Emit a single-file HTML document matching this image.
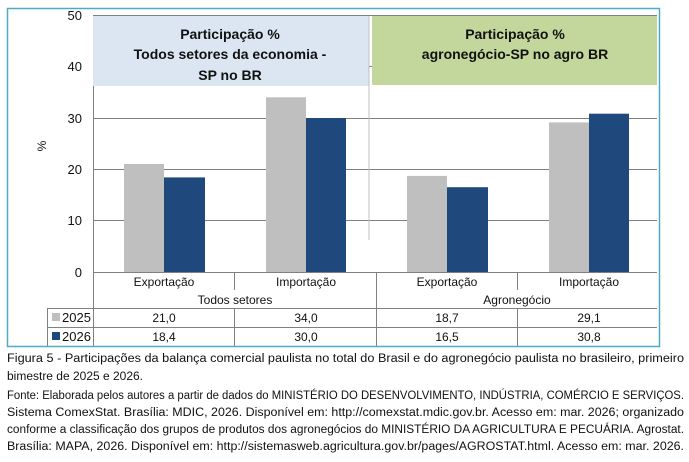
<!DOCTYPE html>
<html><head><meta charset="utf-8"><style>
html,body{margin:0;padding:0;background:#fff;}
svg{display:block;font-family:"Liberation Sans","DejaVu Sans",sans-serif;}
</style></head><body>
<svg width="689" height="462" viewBox="0 0 689 462" xmlns="http://www.w3.org/2000/svg">
<rect x="0" y="0" width="689" height="462" fill="#fff"/>
<!-- header boxes -->
<rect x="93" y="16" width="276" height="70" fill="#dce6f2"/>
<rect x="372" y="16" width="285" height="69" fill="#c3d69b"/>
<!-- gridlines -->
<g stroke="#808080" stroke-width="1">
<line x1="93" y1="15.5" x2="657" y2="15.5"/>
<line x1="93" y1="66.5" x2="657" y2="66.5"/>
<line x1="93" y1="118.5" x2="657" y2="118.5"/>
<line x1="93" y1="169.5" x2="657" y2="169.5"/>
<line x1="93" y1="220.5" x2="657" y2="220.5"/>
<line x1="93.5" y1="15" x2="93.5" y2="346"/>
</g>
<rect x="93" y="16" width="276" height="70" fill="#dce6f2"/>
<rect x="372" y="16" width="285" height="69" fill="#c3d69b"/>
<line x1="369" y1="16" x2="369" y2="240" stroke="#c0c0c0" stroke-width="1"/>
<g font-weight="bold" font-size="14" fill="#111" text-anchor="middle">
<text x="230" y="39">Participação %</text>
<text x="230" y="59">Todos setores da economia -</text>
<text x="230" y="80">SP no BR</text>
<text x="515" y="39">Participação %</text>
<text x="515" y="59">agronegócio-SP no agro BR</text>
</g>
<!-- bars: scale 5.14px/unit, zero at 272 -->
<g>
<rect x="124" y="164" width="40" height="108" fill="#bfbfbf"/>
<rect x="164" y="177.4" width="41" height="94.6" fill="#1f497d"/>
<rect x="266" y="97.3" width="40" height="174.7" fill="#bfbfbf"/>
<rect x="306" y="118" width="40" height="154" fill="#1f497d"/>
<rect x="407" y="175.9" width="40" height="96.1" fill="#bfbfbf"/>
<rect x="447" y="187.2" width="41" height="84.8" fill="#1f497d"/>
<rect x="549" y="122.4" width="40" height="149.6" fill="#bfbfbf"/>
<rect x="589" y="113.7" width="40" height="158.3" fill="#1f497d"/>
</g>
<!-- y labels -->
<g font-size="13" fill="#111" text-anchor="end">
<text x="82" y="20">50</text>
<text x="82" y="71">40</text>
<text x="82" y="123">30</text>
<text x="82" y="174">20</text>
<text x="82" y="225">10</text>
<text x="82" y="277">0</text>
</g>
<text x="46" y="146" font-size="12" fill="#111" transform="rotate(-90 46 146)" text-anchor="middle">%</text>
<!-- table -->
<g stroke="#808080" stroke-width="1" fill="none">
<line x1="93" y1="272.5" x2="657" y2="272.5"/>
<line x1="234.5" y1="272" x2="234.5" y2="290"/>
<line x1="517.5" y1="272" x2="517.5" y2="290"/>
<line x1="376.5" y1="272" x2="376.5" y2="346"/>
<line x1="47" y1="308.5" x2="657" y2="308.5"/>
<line x1="47" y1="327.5" x2="657" y2="327.5"/>
<line x1="47.5" y1="308" x2="47.5" y2="346"/>
<line x1="234.5" y1="308" x2="234.5" y2="346"/>
<line x1="517.5" y1="308" x2="517.5" y2="346"/>
</g>
<rect x="7.5" y="8.5" width="652" height="338" fill="none" stroke="#4bacc6" stroke-width="1.5"/>
<g font-size="12" fill="#111" text-anchor="middle">
<text x="164" y="286">Exportação</text>
<text x="306" y="286">Importação</text>
<text x="447" y="286">Exportação</text>
<text x="589" y="286">Importação</text>
<text x="235" y="304">Todos setores</text>
<text x="517" y="304">Agronegócio</text>
<text x="164" y="322">21,0</text>
<text x="306" y="322">34,0</text>
<text x="447" y="322">18,7</text>
<text x="589" y="322">29,1</text>
<text x="164" y="341">18,4</text>
<text x="306" y="341">30,0</text>
<text x="447" y="341">16,5</text>
<text x="589" y="341">30,8</text>
</g>
<rect x="52" y="313" width="8" height="8" fill="#bfbfbf"/>
<rect x="52" y="332" width="8" height="8" fill="#1f497d"/>
<g font-size="13" fill="#111">
<text x="62" y="322">2025</text>
<text x="62" y="341">2026</text>
</g>
<!-- caption -->
<g font-size="11.5" fill="#111" lengthAdjust="spacingAndGlyphs">
<text x="7" y="362" textLength="677" lengthAdjust="spacingAndGlyphs">Figura 5 - Participações da balança comercial paulista no total do Brasil e do agronegócio paulista no brasileiro, primeiro</text>
<text x="7" y="380" textLength="136" lengthAdjust="spacingAndGlyphs">bimestre de 2025 e 2026.</text>
<text x="7" y="399" textLength="677" lengthAdjust="spacingAndGlyphs">Fonte: Elaborada pelos autores a partir de dados do MINISTÉRIO DO DESENVOLVIMENTO, INDÚSTRIA, COMÉRCIO E SERVIÇOS.</text>
<text x="7" y="416" textLength="677" lengthAdjust="spacingAndGlyphs">Sistema ComexStat. Brasília: MDIC, 2026. Disponível em: http://comexstat.mdic.gov.br. Acesso em: mar. 2026; organizado</text>
<text x="7" y="433" textLength="677" lengthAdjust="spacingAndGlyphs">conforme a classificação dos grupos de produtos dos agronegócios do MINISTÉRIO DA AGRICULTURA E PECUÁRIA. Agrostat.</text>
<text x="7" y="450" textLength="677" lengthAdjust="spacingAndGlyphs">Brasília: MAPA, 2026. Disponível em: http://sistemasweb.agricultura.gov.br/pages/AGROSTAT.html. Acesso em: mar. 2026.</text>
</g>
</svg>
</body></html>
